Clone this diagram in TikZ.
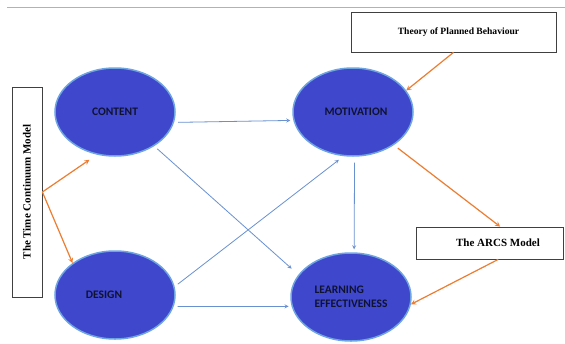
\documentclass[tikz,border=0pt]{standalone}
\usepackage{fontspec}
\setmainfont{Liberation Serif}
\newfontfamily\carlito{Carlito}
\usetikzlibrary{shapes.geometric}
\definecolor{myblue}{RGB}{63,72,204}
\definecolor{myedge}{RGB}{110,165,225}
\definecolor{mylink}{RGB}{105,145,210}
\definecolor{myorange}{RGB}{237,125,49}
\definecolor{mynavy}{RGB}{16,18,50}
\tikzset{
  factor/.style={ellipse,draw=myedge,line width=1.5pt,fill=myblue,minimum width=120pt,minimum height=88pt,inner sep=0pt,text=mynavy,font=\carlito\bfseries\fontsize{11.5}{13.5}\selectfont},
  theory/.style={draw=black!75,line width=0.8pt,fill=white,inner sep=0pt,font=\bfseries\fontsize{11}{13}\selectfont},
  link/.style={->,mylink,line width=0.8pt,shorten <=4pt,shorten >=3pt},
  cite/.style={->,myorange,line width=1.2pt},
}
\begin{document}
\begin{tikzpicture}[x=1pt,y=-1pt,>=stealth]
            \useasboundingbox[fill=white] (0,0) rectangle (565,343);
            \draw[black!30,line width=0.6pt] (7,7)--(565,7);
            \node[factor] (content) at (115,112) {CONTENT};
            \node[factor] (motiv) at (353,112) {\hspace*{6pt}MOTIVATION};
            \node[factor] (design) at (115,295) {DESIGN\hspace*{22pt}};
            \node[factor,align=left] (learn) at (351,297) {LEARNING\\EFFECTIVENESS};
            \node[theory,minimum width=205pt,minimum height=40pt,font=\bfseries\fontsize{9.6}{11}\selectfont] (tpb) at (453.5,32) {\hspace*{10pt}Theory of Planned Behaviour};
            \node[theory,minimum width=147pt,minimum height=32pt] (arcs) at (489.5,243) {\hspace*{17pt}The ARCS Model};
            \node[theory,minimum width=30pt,minimum height=210pt] (tcm) at (27,192) {\rotatebox{90}{The Time Continuum Model}};
            \draw[link] (content.-10)--(motiv.188);
            \draw[link,shorten >=9pt] (content.-41)--(learn.157);
            \draw[link,shorten >=6pt] (design.8)--(motiv.258);
            \draw[link] (design.-11)--(learn.189);
            \draw[link,shorten <=6pt] (motiv.-88)--(learn.86);
            \draw[cite] (tpb.south)--(motiv.22);
            \draw[cite,shorten >=9pt] (tcm.east)--(content.247);
            \draw[cite] (tcm.east)--(design.143);
            \draw[cite,shorten <=5pt] (motiv.-39)--(arcs.57);
            \draw[cite] (arcs.-62)--(learn.-7);
        \end{tikzpicture}
\end{document}
